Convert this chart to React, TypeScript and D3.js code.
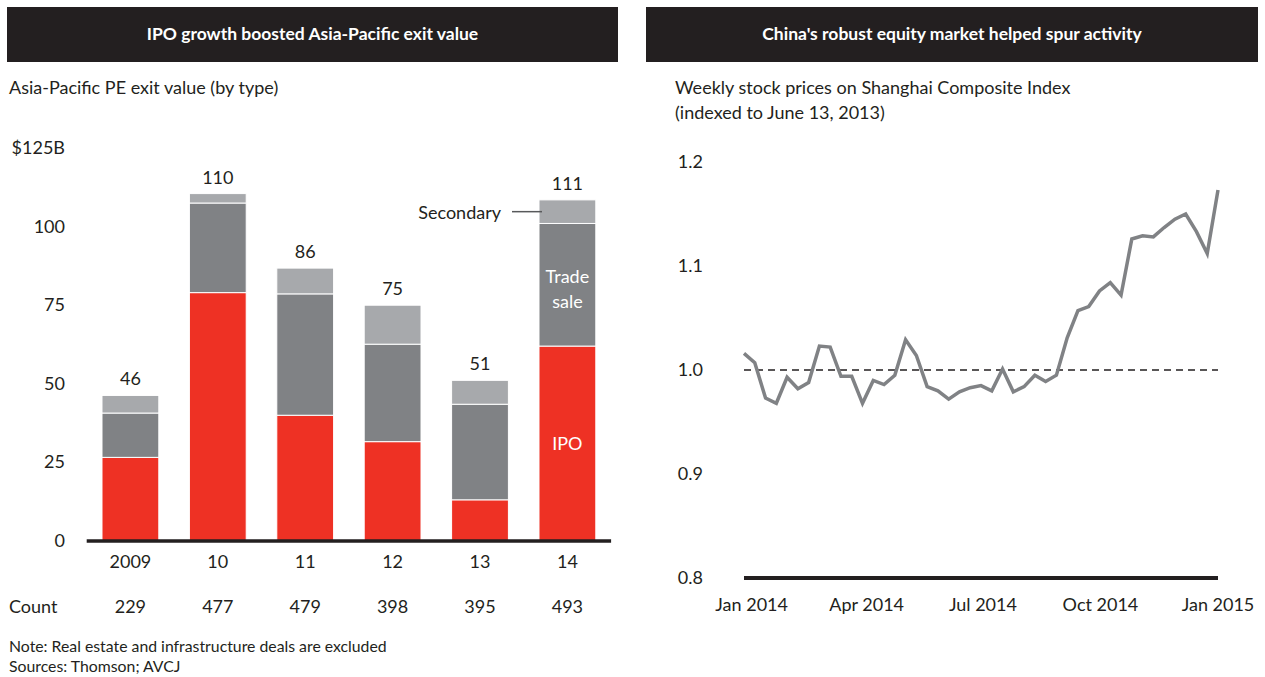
import * as d3 from 'd3';
import React, { useRef, useEffect } from 'react';

// left chart data (exit value, $B)
const years = ['2009', '10', '11', '12', '13', '14'];
const ipo = [26.6, 79, 40, 31.6, 13.1, 62];
const tradeSale = [14.1, 28.5, 38.6, 31, 30.4, 39];
const secondary = [5.6, 3, 8.2, 12.4, 7.6, 7.5];
const totals = ['46', '110', '86', '75', '51', '111'];
const counts = ['229', '477', '479', '398', '395', '493'];
const leftTicks = [0, 25, 50, 75, 100, 125];

// right chart data (Shanghai Composite, indexed)
const prices = [
  1.016, 1.007, 0.973, 0.968, 0.993, 0.982, 0.988, 1.023, 1.022, 0.994,
  0.994, 0.968, 0.990, 0.986, 0.995, 1.029, 1.014, 0.984, 0.980, 0.972,
  0.979, 0.983, 0.985, 0.980, 1.001, 0.979, 0.984, 0.995, 0.989, 0.995,
  1.031, 1.057, 1.061, 1.076, 1.084, 1.072, 1.126, 1.129, 1.128, 1.137,
  1.145, 1.150, 1.133, 1.112, 1.173
];
const rightTicks = [0.8, 0.9, 1.0, 1.1, 1.2];
const firstDate = new Date(2013, 11, 26);
const lastDate = new Date(2015, 0, 1);

const FONT = 'Lato, "Open Sans", sans-serif';
const FS = 18;
const RED = '#ee3124';
const DARK_GRAY = '#808285';
const LIGHT_GRAY = '#a7a9ac';
const INK = '#231f20';

function App() {
  const ref = useRef(null);

  useEffect(() => {
    draw();
  }, []);

  const draw = () => {
    const svg = d3.select(ref.current);
    svg.selectAll('*').remove();

    // ---------- headers ----------
    const headers = [
      { x: 7, w: 611, text: 'IPO growth boosted Asia-Pacific exit value' },
      { x: 646, w: 612, text: "China's robust equity market helped spur activity" }
    ];
    headers.forEach((h) => {
      svg.append('rect').attr('x', h.x).attr('y', 7).attr('width', h.w).attr('height', 55).attr('fill', INK);
      svg.append('text').attr('x', h.x + h.w / 2).attr('y', 40)
        .attr('text-anchor', 'middle').attr('fill', '#fff')
        .attr('font-size', 17.5).attr('font-weight', 'bold').text(h.text);
    });

    // ---------- left: stacked bars ----------
    const left = svg.append('g');
    left.append('text').attr('x', 9).attr('y', 94).attr('font-size', FS).attr('fill', INK)
      .text('Asia-Pacific PE exit value (by type)');

    const y = d3.scaleLinear().domain([0, 125]).range([541, 148]);
    const x = d3.scaleBand().domain(years).range([86.7, 611.1]).paddingInner(0.35).paddingOuter(0.175);

    left.selectAll('.ytick').data(leftTicks).enter().append('text')
      .attr('x', 65).attr('y', (d) => y(d) + 6).attr('text-anchor', 'end')
      .attr('font-size', FS).attr('fill', INK)
      .text((d) => (d === 125 ? '$125B' : d));

    const rows = years.map((yr, i) => ({ yr, ipo: ipo[i], trade: tradeSale[i], secondary: secondary[i] }));
    const stack = d3.stack().keys(['ipo', 'trade', 'secondary'])(rows);
    const colors = { ipo: RED, trade: DARK_GRAY, secondary: LIGHT_GRAY };

    stack.forEach((layer) => {
      left.selectAll(null).data(layer).enter().append('rect')
        .attr('x', (d) => x(d.data.yr))
        .attr('y', (d) => y(d[1]))
        .attr('width', x.bandwidth())
        .attr('height', (d) => y(d[0]) - y(d[1]))
        .attr('fill', colors[layer.key])
        .attr('stroke', '#fff').attr('stroke-width', 1);
    });

    left.append('line').attr('x1', 86.7).attr('x2', 611.1).attr('y1', y(0)).attr('y2', y(0))
      .attr('stroke', INK).attr('stroke-width', 3.5);

    left.selectAll('.total').data(rows).enter().append('text')
      .attr('x', (d) => x(d.yr) + x.bandwidth() / 2)
      .attr('y', (d) => y(d.ipo + d.trade + d.secondary) - 10)
      .attr('text-anchor', 'middle').attr('font-size', FS).attr('fill', INK)
      .text((d, i) => totals[i]);

    left.selectAll('.year').data(years).enter().append('text')
      .attr('x', (d) => x(d) + x.bandwidth() / 2).attr('y', 568)
      .attr('text-anchor', 'middle').attr('font-size', FS).attr('fill', INK).text((d) => d);

    left.append('text').attr('x', 9).attr('y', 613).attr('font-size', FS).attr('fill', INK).text('Count');
    left.selectAll('.count').data(counts).enter().append('text')
      .attr('x', (d, i) => x(years[i]) + x.bandwidth() / 2).attr('y', 613)
      .attr('text-anchor', 'middle').attr('font-size', FS).attr('fill', INK).text((d) => d);

    // labels inside / next to the 2014 bar
    const last = rows[rows.length - 1];
    const cx = x(last.yr) + x.bandwidth() / 2;
    const secMid = y(last.ipo + last.trade + last.secondary / 2);
    left.append('line').attr('x1', 512).attr('x2', x(last.yr) + 3).attr('y1', secMid).attr('y2', secMid)
      .attr('stroke', '#58595b').attr('stroke-width', 1.5);
    left.append('text').attr('x', 501).attr('y', secMid + 7).attr('text-anchor', 'end')
      .attr('font-size', FS).attr('fill', INK).text('Secondary');
    const tradeMid = y(last.ipo + last.trade / 2);
    left.append('text').attr('x', cx).attr('y', tradeMid - 2).attr('text-anchor', 'middle')
      .attr('font-size', FS).attr('fill', '#fff').text('Trade');
    left.append('text').attr('x', cx).attr('y', tradeMid + 23).attr('text-anchor', 'middle')
      .attr('font-size', FS).attr('fill', '#fff').text('sale');
    left.append('text').attr('x', cx).attr('y', y(last.ipo / 2) + 6).attr('text-anchor', 'middle')
      .attr('font-size', FS).attr('fill', '#fff').text('IPO');

    left.append('text').attr('x', 9).attr('y', 652).attr('font-size', 15.8).attr('fill', INK)
      .text('Note: Real estate and infrastructure deals are excluded');
    left.append('text').attr('x', 9).attr('y', 672).attr('font-size', 15.8).attr('fill', INK)
      .text('Sources: Thomson; AVCJ');

    // ---------- right: line chart ----------
    const right = svg.append('g');
    right.append('text').attr('x', 675).attr('y', 94).attr('font-size', FS).attr('fill', INK)
      .text('Weekly stock prices on Shanghai Composite Index');
    right.append('text').attr('x', 675).attr('y', 119).attr('font-size', FS).attr('fill', INK)
      .text('(indexed to June 13, 2013)');

    const ry = d3.scaleLinear().domain([0.8, 1.2]).range([578, 162]);
    const rx = d3.scaleTime().domain([firstDate, lastDate]).range([744, 1218]);
    const step = (lastDate.getTime() - firstDate.getTime()) / (prices.length - 1);
    const points = prices.map((v, i) => ({ date: new Date(firstDate.getTime() + i * step), v }));

    right.selectAll('.ytick').data(rightTicks).enter().append('text')
      .attr('x', 703).attr('y', (d) => ry(d) + 6).attr('text-anchor', 'end')
      .attr('font-size', FS).attr('fill', INK).text((d) => d.toFixed(1));

    const xTicks = rx.ticks(d3.timeMonth.every(3));
    right.selectAll('.xtick').data(xTicks).enter().append('text')
      .attr('x', (d) => rx(d)).attr('y', 611).attr('text-anchor', 'middle')
      .attr('font-size', FS).attr('fill', INK).text((d) => d3.timeFormat('%b %Y')(d));

    right.append('line').attr('x1', 744).attr('x2', 1218).attr('y1', ry(1)).attr('y2', ry(1))
      .attr('stroke', INK).attr('stroke-width', 1.3).attr('stroke-dasharray', '7,5');

    const line = d3.line().x((d) => rx(d.date)).y((d) => ry(d.v));
    right.append('path').datum(points).attr('d', line)
      .attr('fill', 'none').attr('stroke', '#808285').attr('stroke-width', 3.5)
      .attr('stroke-linejoin', 'miter');

    right.append('line').attr('x1', 744).attr('x2', 1218).attr('y1', ry(0.8)).attr('y2', ry(0.8))
      .attr('stroke', INK).attr('stroke-width', 4);
  };

  return (
    <svg ref={ref} width={1265} height={677}
      style={{ position: 'absolute', left: 0, top: 0, fontFamily: FONT }}>
    </svg>
  );
}

export default App;
